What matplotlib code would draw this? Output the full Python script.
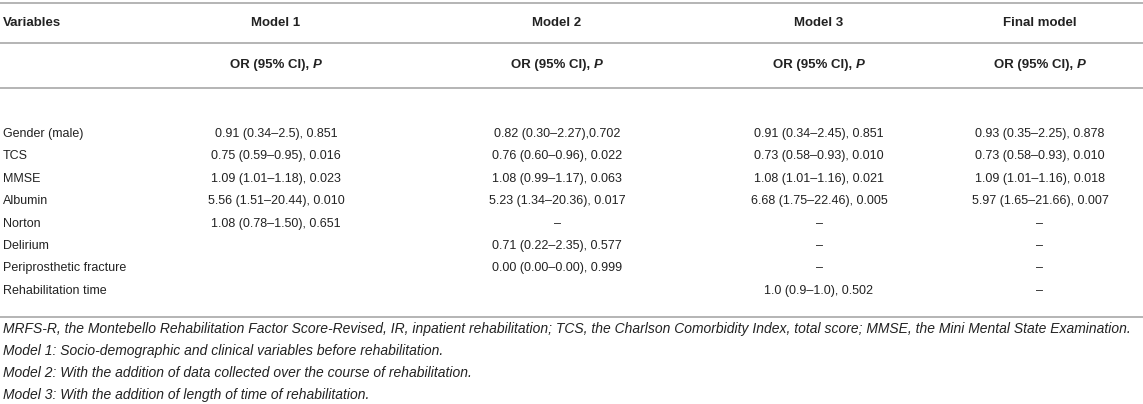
import matplotlib
matplotlib.use("Agg")
import matplotlib.pyplot as plt

# table content
col_titles = ["Variables", "Model 1", "Model 2", "Model 3", "Final model"]
variables = ["Gender (male)", "TCS", "MMSE", "Albumin", "Norton", "Delirium",
             "Periprosthetic fracture", "Rehabilitation time"]
model1 = ["0.91 (0.34–2.5), 0.851", "0.75 (0.59–0.95), 0.016", "1.09 (1.01–1.18), 0.023",
          "5.56 (1.51–20.44), 0.010", "1.08 (0.78–1.50), 0.651", "", "", ""]
model2 = ["0.82 (0.30–2.27),0.702", "0.76 (0.60–0.96), 0.022", "1.08 (0.99–1.17), 0.063",
          "5.23 (1.34–20.36), 0.017", "–", "0.71 (0.22–2.35), 0.577",
          "0.00 (0.00–0.00), 0.999", ""]
model3 = ["0.91 (0.34–2.45), 0.851", "0.73 (0.58–0.93), 0.010", "1.08 (1.01–1.16), 0.021",
          "6.68 (1.75–22.46), 0.005", "–", "–", "–", "1.0 (0.9–1.0), 0.502"]
final_model = ["0.93 (0.35–2.25), 0.878", "0.73 (0.58–0.93), 0.010", "1.09 (1.01–1.16), 0.018",
               "5.97 (1.65–21.66), 0.007", "–", "–", "–", "–"]
footnotes = [
    "MRFS-R, the Montebello Rehabilitation Factor Score-Revised, IR, inpatient rehabilitation; "
    "TCS, the Charlson Comorbidity Index, total score; MMSE, the Mini Mental State Examination.",
    "Model 1: Socio-demographic and clinical variables before rehabilitation.",
    "Model 2: With the addition of data collected over the course of rehabilitation.",
    "Model 3: With the addition of length of time of rehabilitation.",
]

plt.rcParams['font.family'] = ['Liberation Sans', 'DejaVu Sans']
fs = 9.0      # body
fs_h = 9.5    # headers
fs_n = 10.0   # footnotes
txt = '#222222'
line_c = '#b4b4b4'

fig = plt.figure(figsize=(11.43, 4.04), dpi=100)
ax = fig.add_axes([0, 0, 1, 1])
ax.set_xlim(0, 1143)
ax.set_ylim(404, 0)
ax.axis('off')

col_x = [3, 276, 557, 819, 1040]
header_y = 23
sub_y = 65
row_y0 = 134
row_dy = 22.4

# rules
for y in [3, 43, 88, 317]:
    ax.axhline(y, xmin=0, xmax=1, color=line_c, lw=1.4)

# header
ax.text(col_x[0], header_y, col_titles[0], ha='left', va='center', fontsize=fs_h,
        fontweight='bold', color=txt)
for x, t in zip(col_x[1:], col_titles[1:]):
    ax.text(x, header_y, t, ha='center', va='center', fontsize=fs_h, fontweight='bold', color=txt)

# sub header "OR (95% CI), P" with italic P
fig.canvas.draw()
renderer = fig.canvas.get_renderer()
for x in col_x[1:]:
    probe = ax.text(0, 0, "OR (95% CI), P", fontsize=fs_h, fontweight='bold')
    w_full = probe.get_window_extent(renderer).width
    probe.remove()
    probe2 = ax.text(0, 0, "OR (95% CI),", fontsize=fs_h, fontweight='bold')
    w1 = probe2.get_window_extent(renderer).width + fs_h * 0.278 * 100 / 72
    probe2.remove()
    left = x - w_full / 2
    ax.text(left, sub_y, "OR (95% CI),", ha='left', va='center', fontsize=fs_h,
            fontweight='bold', color=txt)
    ax.text(left + w1, sub_y, "P", ha='left', va='center', fontsize=fs_h,
            fontweight='bold', fontstyle='italic', color=txt)

# body
for i, var in enumerate(variables):
    y = row_y0 + i * row_dy
    ax.text(col_x[0], y, var, ha='left', va='center', fontsize=fs, color=txt)
    for x, col in zip(col_x[1:], [model1, model2, model3, final_model]):
        ax.text(x, y, col[i], ha='center', va='center', fontsize=fs, color=txt)

# footnotes
for j, note in enumerate(footnotes):
    ax.text(col_x[0], 329 + j * 22.0, note, ha='left', va='center', fontsize=fs_n,
            fontstyle='italic', color=txt)

fig.savefig('out.png', dpi=100)
